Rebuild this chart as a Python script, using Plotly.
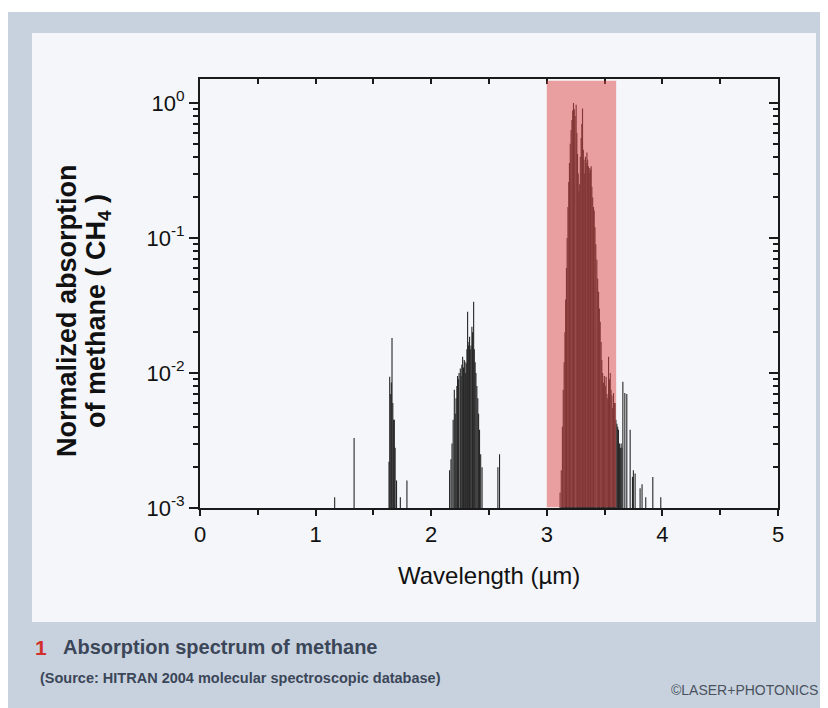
import plotly.graph_objects as go

# ---------------- data ----------------
# Wavelength of each absorption line (µm) and its normalized absorption
wl_nir = [1.165, 1.333, 1.635, 1.641, 1.650, 1.655, 1.661, 1.668, 1.675, 1.681,
          1.688, 1.700, 1.733, 1.790]
ab_nir = [0.0012, 0.0033, 0.0022, 0.0094, 0.0070, 0.0085, 0.0182, 0.0060, 0.0045, 0.0045,
          0.0028, 0.0016, 0.0012, 0.0016]

wl_band2 = [2.159, 2.171, 2.180, 2.190, 2.200, 2.208, 2.215, 2.222, 2.228, 2.235,
            2.241, 2.252, 2.258, 2.265, 2.272, 2.280, 2.286, 2.292, 2.298, 2.303,
            2.309, 2.315, 2.321, 2.327, 2.332, 2.338, 2.345, 2.352, 2.358, 2.367,
            2.373, 2.380, 2.387, 2.395, 2.403, 2.410, 2.418, 2.428, 2.440, 2.577,
            2.591]
ab_band2 = [0.0019, 0.0023, 0.0030, 0.0045, 0.0075, 0.0050, 0.0065, 0.0080, 0.0095, 0.0090,
            0.0100, 0.0108, 0.0095, 0.0115, 0.0132, 0.0110, 0.0125, 0.0121, 0.0100, 0.0118,
            0.0150, 0.0284, 0.0160, 0.0170, 0.0186, 0.0150, 0.0160, 0.0220, 0.0200, 0.0337,
            0.0150, 0.0120, 0.0100, 0.0080, 0.0065, 0.0050, 0.0038, 0.0025, 0.0020, 0.0020,
            0.0025]

wl_band3 = [3.115, 3.125, 3.135, 3.142, 3.150, 3.157, 3.163, 3.170, 3.176, 3.183,
            3.190, 3.196, 3.203, 3.210, 3.217, 3.224, 3.231, 3.238, 3.245, 3.254,
            3.260, 3.266, 3.272, 3.278, 3.284, 3.290, 3.297, 3.303, 3.309, 3.316,
            3.322, 3.328, 3.334, 3.340, 3.347, 3.353, 3.360, 3.366, 3.372, 3.378,
            3.384, 3.390, 3.397, 3.404, 3.410, 3.417, 3.424, 3.433, 3.440, 3.448,
            3.455, 3.462, 3.470, 3.476, 3.483, 3.490, 3.498, 3.506, 3.513, 3.520,
            3.527, 3.534, 3.542, 3.549, 3.556, 3.563, 3.570, 3.577, 3.584, 3.591,
            3.598, 3.606, 3.613, 3.620, 3.628, 3.636, 3.643, 3.650, 3.658, 3.675,
            3.692, 3.721, 3.741, 3.749, 3.764, 3.807, 3.824, 3.856, 3.917, 3.986]
ab_band3 = [0.0013, 0.0019, 0.0040, 0.0075, 0.012, 0.020, 0.035, 0.060, 0.10, 0.17,
            0.26, 0.36, 0.50, 0.63, 0.75, 0.88, 1.00, 0.90, 0.80, 0.97,
            0.60, 0.42, 0.30, 0.22, 0.25, 0.40, 0.55, 0.70, 0.91, 0.45,
            0.38, 0.30, 0.40, 0.36, 0.43, 0.38, 0.34, 0.30, 0.33, 0.32,
            0.34, 0.24, 0.20, 0.17, 0.16, 0.12, 0.09, 0.069, 0.050, 0.040,
            0.030, 0.024, 0.017, 0.0125, 0.010, 0.0085, 0.0095, 0.0080, 0.0094, 0.0070,
            0.0065, 0.0132, 0.0090, 0.0100, 0.0075, 0.0068, 0.0055, 0.0071, 0.0060, 0.0060,
            0.0045, 0.0042, 0.0040, 0.0038, 0.0030, 0.0028, 0.0030, 0.0028, 0.0086, 0.0071,
            0.0070, 0.0038, 0.0017, 0.0019, 0.0018, 0.0014, 0.0015, 0.0012, 0.0017, 0.0012]

baseline = 1e-3
band_range = [3.0, 3.6]          # highlighted region (µm)
x_ticks = [0, 1, 2, 3, 4, 5]
y_tickvals = [1e-3, 1e-2, 1e-1, 1]
y_ticktext = ["10<sup>-3</sup>", "10<sup>-2</sup>", "10<sup>-1</sup>", "10<sup>0</sup>"]
y_minor = [m * 10.0 ** e for e in (-3, -2, -1) for m in range(2, 10)]

wl = wl_nir + wl_band2 + wl_band3
ab = ab_nir + ab_band2 + ab_band3

xs, ys = [], []
for w, v in zip(wl, ab):
    xs += [w, w, None]
    ys += [baseline, v, None]

# ---------------- figure ----------------
OFF = 8                      # page body margin of the browser
W, H = 828 - OFF, 708 - OFF
ML, MR, MT, MB = 192, 50, 71, 200
PW, PH = W - ML - MR, H - MT - MB


def px(x):                   # window pixel -> paper x
    return (x - OFF - ML) / PW


def py(y):                   # window pixel -> paper y
    return 1 - (y - OFF - MT) / PH


FONT = "Liberation Sans, Arial, sans-serif"
PAGE_BLUE = "#c8d2de"
PANEL = "#f4f6f9"
INK = "#111111"

fig = go.Figure()
fig.add_trace(go.Scatter(x=xs, y=ys, mode="lines",
                         line=dict(color="#262626", width=1.1),
                         showlegend=False, hoverinfo="skip"))
fig.add_trace(go.Scatter(x=[None], y=[None], xaxis="x2", yaxis="y2",
                         showlegend=False, hoverinfo="skip"))

axis_common = dict(showgrid=False, zeroline=False, linecolor="#1a1a1a",
                   tickcolor="#1a1a1a")

fig.update_layout(
    width=W, height=H,
    margin=dict(l=ML, r=MR, t=MT, b=MB, pad=0),
    paper_bgcolor=PAGE_BLUE,
    plot_bgcolor=PANEL,
    showlegend=False,
    font=dict(family=FONT, color=INK),
    xaxis=dict(range=[0, 5], tickvals=x_ticks, ticks="outside", ticklen=6, tickwidth=1.5,
               showline=True, linewidth=2, mirror=True,
               minor=dict(ticks="outside", dtick=0.5, tick0=0, ticklen=5, tickwidth=1.5,
                          tickcolor="#1a1a1a"),
               tickfont=dict(size=22, family=FONT, color=INK), **axis_common),
    yaxis=dict(type="log", range=[-3, 0.178], tickvals=y_tickvals, ticktext=y_ticktext,
               ticks="outside", ticklen=9, tickwidth=1.5,
               showline=True, linewidth=2, mirror=True,
               minor=dict(ticks="outside", tickvals=y_minor, ticklen=5, tickwidth=1.5,
                          tickcolor="#1a1a1a"),
               tickfont=dict(size=22, family=FONT, color=INK), **axis_common),
    xaxis2=dict(overlaying="x", side="top", range=[0, 5], tickvals=[i * 0.5 for i in range(11)],
                ticks="inside", ticklen=5, tickwidth=1.5, showticklabels=False,
                showline=False, **axis_common),
    yaxis2=dict(overlaying="y", side="right", type="log", range=[-3, 0.178],
                tickvals=y_tickvals, ticks="inside", ticklen=9, tickwidth=1.5,
                showticklabels=False, showline=False,
                minor=dict(ticks="inside", tickvals=y_minor, ticklen=5, tickwidth=1.5,
                           tickcolor="#1a1a1a"),
                **axis_common),
)

# page decoration: white page edge at top, white panel on the bluish page
fig.add_shape(type="rect", xref="paper", yref="paper", x0=px(0), x1=px(840),
              y0=py(12), y1=py(0), fillcolor="#ffffff", line_width=0, layer="below")
fig.add_shape(type="rect", xref="paper", yref="paper", x0=px(32), x1=px(816),
              y0=py(622), y1=py(33), fillcolor=PANEL, line_width=0, layer="below")

# highlighted band 3.0 - 3.6 µm
fig.add_shape(type="rect", xref="x", yref="paper", x0=band_range[0], x1=band_range[1],
              y0=0.002, y1=0.996, fillcolor="rgba(222,70,70,0.5)", line_width=0,
              layer="above")

# axis titles
fig.add_annotation(xref="paper", yref="paper", x=px(67), y=py(311), xanchor="center",
                   yanchor="middle", textangle=-90, showarrow=False,
                   text="<b>Normalized absorption</b>",
                   font=dict(size=27, family=FONT, color=INK))
fig.add_annotation(xref="paper", yref="paper", x=px(98), y=py(311), xanchor="center",
                   yanchor="middle", textangle=-90, showarrow=False,
                   text="<b>of methane ( CH<sub>4</sub> )</b>",
                   font=dict(size=27, family=FONT, color=INK))
fig.add_annotation(xref="paper", yref="paper", x=px(489), y=py(575), xanchor="center",
                   yanchor="middle", showarrow=False, text="Wavelength (µm)",
                   font=dict(size=24, family=FONT, color=INK))

# caption
fig.add_annotation(xref="paper", yref="paper", x=px(33), y=py(647), xanchor="left",
                   yanchor="middle", showarrow=False, text="<b>1</b>",
                   font=dict(size=21, family=FONT, color="#d2302b"))
fig.add_annotation(xref="paper", yref="paper", x=px(61), y=py(647), xanchor="left",
                   yanchor="middle", showarrow=False,
                   text="<b>Absorption spectrum of methane</b>",
                   font=dict(size=20, family=FONT, color="#3b4658"))
fig.add_annotation(xref="paper", yref="paper", x=px(38), y=py(678), xanchor="left",
                   yanchor="middle", showarrow=False,
                   text="<b>(Source: HITRAN 2004 molecular spectroscopic database)</b>",
                   font=dict(size=14.5, family=FONT, color="#3b4658"))
fig.add_annotation(xref="paper", yref="paper", x=px(820), y=py(690), xanchor="right",
                   yanchor="middle", showarrow=False,
                   text="©LASER+PHOTONICS",
                   font=dict(size=14, family=FONT, color="#4a5260"))

fig.write_html("out.html")
